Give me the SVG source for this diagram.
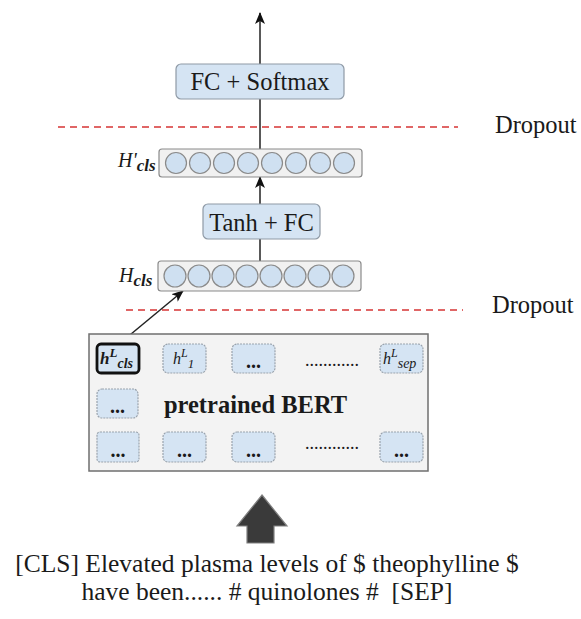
<svg xmlns="http://www.w3.org/2000/svg" width="581" height="619" viewBox="0 0 581 619" font-family="'Liberation Serif', 'DejaVu Serif', serif">
<style>
text{fill:#1a1a1a}
.lbl{font-size:24.5px}
.blue{fill:#d5e4f3;stroke:#8f9aa6;stroke-width:1.2}
.vec{fill:#f1f1f1;stroke:#8a8a8a;stroke-width:1.2}
.cir{fill:#cfe0f1;stroke:#8a8a8a;stroke-width:1.2}
.tok{fill:#d5e4f3;stroke:#9aa3ad;stroke-width:1.2;stroke-dasharray:2 1}
.dots{font-size:20px;font-weight:bold;text-anchor:middle}
.drop{stroke:#e06666;stroke-width:2;stroke-dasharray:7 5;fill:none}
.conn{stroke:#222;stroke-width:1.5;fill:none}
.it{font-style:italic}
.bi{font-style:italic;font-weight:bold}
</style>
<defs>
<marker id="ah" viewBox="0 0 12 10" refX="11" refY="5" markerWidth="12" markerHeight="10" markerUnits="userSpaceOnUse" orient="auto">
<path d="M0,0 L12,5 L0,10 L3,5 Z" fill="#111"/>
</marker>
</defs>

<g id="dropout-lines">
<line class="drop" x1="58" y1="127" x2="458" y2="127"/>
<line class="drop" x1="126" y1="310" x2="463" y2="310"/>
<text class="lbl" x="495" y="133">Dropout</text>
<text class="lbl" x="492" y="313">Dropout</text>
</g>

<g id="connectors">
<line class="conn" x1="260" y1="64" x2="260" y2="13" marker-end="url(#ah)"/>
<line class="conn" x1="260" y1="149" x2="260" y2="99"/>
<line class="conn" x1="260" y1="204" x2="260" y2="177" marker-end="url(#ah)"/>
<line class="conn" x1="260" y1="261" x2="260" y2="239"/>
<line class="conn" x1="119" y1="344" x2="183" y2="291" marker-end="url(#ah)"/>
</g>

<g id="fc-softmax">
<rect class="blue" x="176" y="64" width="168" height="35" rx="5"/>
<text class="lbl" x="260" y="90" text-anchor="middle">FC + Softmax</text>
</g>

<g id="h-prime-cls">
<text x="118" y="167" class="it" font-size="20">H'<tspan class="bi" font-size="17" dy="4">cls</tspan></text>
<rect class="vec" x="159" y="149" width="203" height="28" rx="3"/>
<circle class="cir" cx="176" cy="163" r="10.5"/>
<circle class="cir" cx="200" cy="163" r="10.5"/>
<circle class="cir" cx="224" cy="163" r="10.5"/>
<circle class="cir" cx="248" cy="163" r="10.5"/>
<circle class="cir" cx="272" cy="163" r="10.5"/>
<circle class="cir" cx="296" cy="163" r="10.5"/>
<circle class="cir" cx="320" cy="163" r="10.5"/>
<circle class="cir" cx="344" cy="163" r="10.5"/>
</g>

<g id="tanh-fc">
<rect class="blue" x="203" y="204" width="117" height="35" rx="5"/>
<text class="lbl" x="261.5" y="231" text-anchor="middle">Tanh + FC</text>
</g>

<g id="h-cls">
<text x="119" y="282" class="it" font-size="20">H<tspan class="bi" font-size="17" dy="4">cls</tspan></text>
<rect class="vec" x="158" y="261" width="203" height="30" rx="3"/>
<circle class="cir" cx="175" cy="276" r="11"/>
<circle class="cir" cx="199" cy="276" r="11"/>
<circle class="cir" cx="223" cy="276" r="11"/>
<circle class="cir" cx="247" cy="276" r="11"/>
<circle class="cir" cx="271" cy="276" r="11"/>
<circle class="cir" cx="295" cy="276" r="11"/>
<circle class="cir" cx="319" cy="276" r="11"/>
<circle class="cir" cx="343" cy="276" r="11"/>
</g>

<g id="bert">
<rect x="89" y="334" width="339" height="137" fill="#f3f3f3" stroke="#6f6f6f" stroke-width="1.5"/>
<text x="255.5" y="413" font-size="24.5" font-weight="bold" text-anchor="middle">pretrained BERT</text>
<rect x="97" y="344" width="42" height="29" rx="4" fill="#d5e4f3" stroke="#111" stroke-width="2.8"/>
<text x="100" y="364" class="bi" font-size="17">h<tspan font-size="13" dy="-7">L</tspan><tspan font-size="14" dy="11">cls</tspan></text>
<rect class="tok" x="163" y="344" width="43" height="29" rx="5"/>
<text x="173" y="364" class="it" font-size="16">h<tspan font-size="12" dy="-7">L</tspan><tspan font-size="13" dy="11">1</tspan></text>
<rect class="tok" x="232" y="344" width="43" height="29" rx="5"/>
<text class="dots" x="253.5" y="368">...</text>
<text x="332" y="366" font-size="18" text-anchor="middle">............</text>
<rect class="tok" x="380" y="344" width="43" height="29" rx="5"/>
<text x="383" y="364" class="it" font-size="16">h<tspan font-size="12" dy="-7">L</tspan><tspan font-size="14" dy="11">sep</tspan></text>
<rect class="tok" x="97" y="389" width="41" height="29" rx="5"/>
<text class="dots" x="117.5" y="413">...</text>
<rect class="tok" x="97" y="432" width="42" height="30" rx="3"/>
<text class="dots" x="118" y="457">...</text>
<rect class="tok" x="163" y="432" width="43" height="30" rx="5"/>
<text class="dots" x="184.5" y="457">...</text>
<rect class="tok" x="232" y="432" width="43" height="30" rx="5"/>
<text class="dots" x="253.5" y="457">...</text>
<text x="332" y="449" font-size="18" text-anchor="middle">............</text>
<rect class="tok" x="380" y="432" width="43" height="30" rx="5"/>
<text class="dots" x="401.5" y="457">...</text>
</g>

<g id="input">
<polygon points="262,495 287,526 274,526 274,543 247,543 247,526 237,526" fill="#3a3a3a" stroke="#808080" stroke-width="1.2"/>
<text x="267" y="572" font-size="25.5" text-anchor="middle">[CLS] Elevated plasma levels of $ theophylline $</text>
<text x="267" y="600" font-size="25.5" text-anchor="middle" style="white-space:pre">have been...... # quinolones #  [SEP]</text>
</g>
</svg>
